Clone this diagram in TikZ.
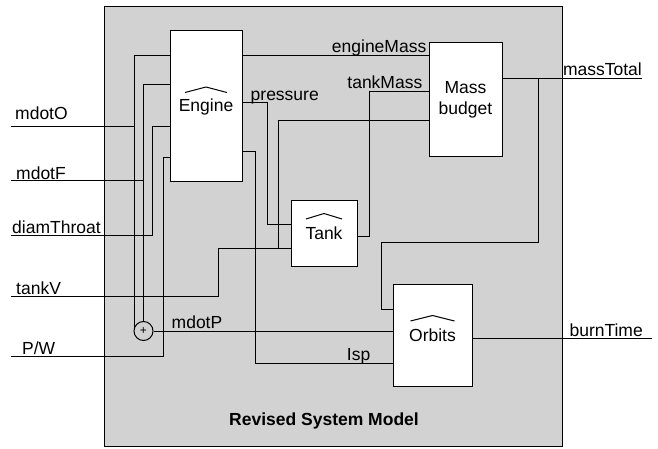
\documentclass[tikz,border=0pt]{standalone}
\usepackage{fontspec}
\setmainfont{Liberation Sans}
\usepackage{tikz}
\usetikzlibrary{positioning}
\definecolor{panel}{HTML}{D2D2D2}
\newcommand{\sysfont}{\fontsize{17.5}{21}\selectfont}
\tikzstyle{block} = [rectangle, draw=black, line width=1pt, fill=white, inner sep=0pt, align=center, font=\sysfont]
\tikzstyle{wire} = [line width=1pt, color=black]
\tikzstyle{port} = [inner sep=0pt, font=\sysfont]
\tikzstyle{hat} = [line width=1pt, line join=round]
\newcommand{\roof}[2]{\draw[hat] ([xshift=-#2, yshift=14pt]#1.center) -- ([yshift=19.5pt]#1.center) -- ([xshift=#2, yshift=14pt]#1.center);}

\begin{document}
\begin{tikzpicture}[x=1pt, y=-1pt]
\useasboundingbox (0,0) rectangle (658,449);

\node (frame) [rectangle, draw=black, line width=1pt, fill=panel, minimum width=458pt, minimum height=439pt] at (333,226.5) {};
\node (title) [above=17pt of frame.south, xshift=-9pt, inner sep=0pt, font=\sysfont\bfseries] {Revised System Model};

\node (eng) [block, minimum width=72pt, minimum height=151pt] at (206,106.5) {Engine};
\node (mass) [block, minimum width=73pt, minimum height=114pt] at (465.5,100) {Mass\\budget};
\node (tank) [block, minimum width=66pt, minimum height=66pt] at (324,233) {Tank};
\node (orb) [block, minimum width=79pt, minimum height=102pt] at (432.5,335) {Orbits};
\node (sum) [circle, draw=black, line width=1pt, minimum size=19pt, inner sep=0pt, font=\fontsize{12}{12}\selectfont] at (143.5,331) {+};

\roof{eng}{21pt}
\roof{tank}{18pt}
\roof{orb}{22pt}

% free ends
\coordinate (inO) at (11,127);
\coordinate (inF) at (11,181);
\coordinate (inD) at (11,235);
\coordinate (inV) at (11,296);
\coordinate (inP) at (11,356);
\coordinate (outM) at (642,79);
\coordinate (outB) at (652,338);

% ports
\coordinate (engIn1) at (eng.west |- 0,56);
\coordinate (engIn2) at (eng.west |- 0,85);
\coordinate (engIn3) at (eng.west |- 0,127);
\coordinate (engIn4) at (eng.west |- 0,158);
\coordinate (engOut1) at (eng.east |- 0,56);
\coordinate (engOut2) at (eng.east |- 0,103);
\coordinate (engOut3) at (eng.east |- 0,152);
\coordinate (massIn1) at (mass.west |- 0,56);
\coordinate (massIn2) at (mass.west |- 0,92);
\coordinate (massIn3) at (mass.west |- 0,121);
\coordinate (massOut) at (mass.east |- 0,79);
\coordinate (tankIn1) at (tank.west |- 0,224);
\coordinate (tankIn2) at (tank.west |- 0,248);
\coordinate (tankOut) at (tank.east |- 0,236);
\coordinate (orbIn1) at (orb.west |- 0,309);
\coordinate (orbIn3) at (orb.west |- 0,363);
\coordinate (orbOut) at (orb.east |- 0,338);

% elbows
\coordinate (kD) at (152,127);
\coordinate (kP) at (163,158);
\coordinate (kV) at (218,248);
\coordinate (kTV) at (278,121);
\coordinate (kPr) at (267,103);
\coordinate (kI) at (255,152);
\coordinate (kT) at (369,92);
\coordinate (kM) at (538,242);
\coordinate (kOr) at (381,309);

\draw[wire] (inO) -| (sum.160);
\draw[wire] (sum.160 |- inO) |- (engIn1);
\draw[wire] (inF) -| (sum.north);
\draw[wire] (sum.north |- inF) |- (engIn2);
\draw[wire] (inD) -| (kD) -- (engIn3);
\draw[wire] (inP) -| (kP) -- (engIn4);
\draw[wire] (inV) -| (kV) -- (tankIn2);
\draw[wire] (kTV |- tankIn2) -- (kTV) -- (massIn3);
\draw[wire] (engOut1) -- (massIn1);
\draw[wire] (engOut2) -- (kPr) |- (tankIn1);
\draw[wire] (engOut3) -- (kI) |- (orbIn3);
\draw[wire] (tankOut) -| (kT) -- (massIn2);
\draw[wire] (massOut) -- (outM);
\draw[wire] (kM |- massOut) -- (kM) -| (kOr) -- (orbIn1);
\draw[wire] (sum.east) -- (orb.west |- sum.east);
\draw[wire] (orbOut) -- (outB);

% signal names
\node (lblO) [port, anchor=base west] at ([xshift=4pt, yshift=7pt]inO) {mdotO};
\node (lblF) [port, anchor=base west] at ([xshift=5pt, yshift=2pt]inF) {mdotF};
\node (lblD) [port, anchor=base west] at ([xshift=1pt, yshift=2pt]inD) {diamThroat};
\node (lblV) [port, anchor=base west] at ([xshift=5pt, yshift=2pt]inV) {tankV};
\node (lblP) [port, anchor=base west] at ([xshift=11pt, yshift=2pt]inP) {P/W};
\node (lblM) [port, anchor=base east] at ([yshift=3pt]outM) {massTotal};
\node (lblB) [port, anchor=base east] at ([xshift=-9pt, yshift=2pt]outB) {burnTime};
\node (lblEM) [port, anchor=base east] at ([xshift=-2pt, yshift=3pt]massIn1) {engineMass};
\node (lblTM) [port, anchor=base east] at ([xshift=-6pt, yshift=3pt]massIn2) {tankMass};
\node (lblPr) [port, anchor=base west] at ([xshift=8pt, yshift=2pt]engOut2) {pressure};
\node (lblI) [port, anchor=base east] at ([xshift=-22pt, yshift=3pt]orbIn3) {Isp};
\node (lblMP) [port, anchor=base west] at ([xshift=18pt, yshift=3pt]sum.east) {mdotP};

\end{tikzpicture}
\end{document}
